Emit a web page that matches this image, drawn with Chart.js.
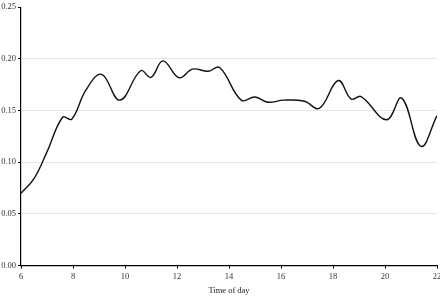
<!DOCTYPE html>
<html>
<head>
<meta charset="utf-8">
<script src="https://cdn.jsdelivr.net/npm/chart.js@4/dist/chart.umd.min.js"></script>
<style>
  html, body { margin: 0; padding: 0; background: #fff; }
  #wrap { width: 440px; height: 300px; }
</style>
</head>
<body>
<div id="wrap"><canvas id="chart" width="440" height="300"></canvas></div>
<script>
var hours  = [6.0, 6.5, 7.0, 7.6, 7.95, 8.5, 9.1, 9.8, 10.6, 11.0, 11.46, 12.08, 12.6, 13.2, 13.64, 14.47, 15.0, 15.5, 16.1, 16.9, 17.47, 18.2, 18.7, 19.08, 20.06, 20.64, 21.38, 22.0]
var values = [0.070, 0.084, 0.110, 0.1435, 0.1416, 0.170, 0.185, 0.160, 0.1885, 0.182, 0.198, 0.1817, 0.190, 0.188, 0.1916, 0.160, 0.163, 0.158, 0.160, 0.159, 0.152, 0.179, 0.161, 0.1635, 0.141, 0.162, 0.1154, 0.145]
var xTicks = [6, 8, 10, 12, 14, 16, 18, 20, 22]
var yTicks = [0, 0.05, 0.10, 0.15, 0.20, 0.25]
var xTitle = "Time of day"

var points = hours.map(function (h, i) { return { x: h, y: values[i] } })

var serif = "'Liberation Serif', 'DejaVu Serif', serif"

var ctx = document.getElementById('chart').getContext('2d')
var chart = new Chart(ctx, {
    type: 'line',
    data: {
        datasets: [{
            data: points,
            borderColor: '#111',
            borderWidth: 1.4,
            pointRadius: 0,
            fill: false,
            tension: 0.4
        }]
    },
    options: {
        responsive: false,
        animation: false,
        layout: { padding: { top: 2, right: 0, left: 0, bottom: 4 } },
        plugins: { legend: { display: false }, tooltip: { enabled: false } },
        scales: {
            x: {
                type: 'linear',
                min: xTicks[0],
                max: xTicks[xTicks.length - 1],
                afterBuildTicks: function (s) { s.ticks = xTicks.map(function (v) { return { value: v } }) },
                afterFit: function (s) { s.paddingRight = 3 },
                grid: { color: 'rgba(0,0,0,0)', tickColor: '#000', tickLength: 3, drawOnChartArea: false },
                border: { display: true, color: '#000', width: 1.2 },
                ticks: { color: '#333', font: { family: serif, size: 8.5 }, padding: 3, maxRotation: 0 },
                title: { display: true, text: xTitle, color: '#222', font: { family: serif, size: 8.5 }, padding: { top: 1, bottom: 0 } }
            },
            y: {
                min: yTicks[0],
                max: yTicks[yTicks.length - 1],
                afterBuildTicks: function (s) { s.ticks = yTicks.map(function (v) { return { value: v } }) },
                afterFit: function (s) { s.width = 21 },
                grid: {
                    color: function (c) { return c.tick && c.tick.value >= 0.249 ? 'rgba(0,0,0,0)' : '#e6e6e6' },
                    tickColor: '#000', tickLength: 3, lineWidth: 1
                },
                border: { display: true, color: '#000', width: 1.2 },
                ticks: {
                    color: '#333', font: { family: serif, size: 8.5 }, padding: 2,
                    callback: function (v) { return Number(v).toFixed(2) }
                }
            }
        }
    }
})
</script>
</body>
</html>
